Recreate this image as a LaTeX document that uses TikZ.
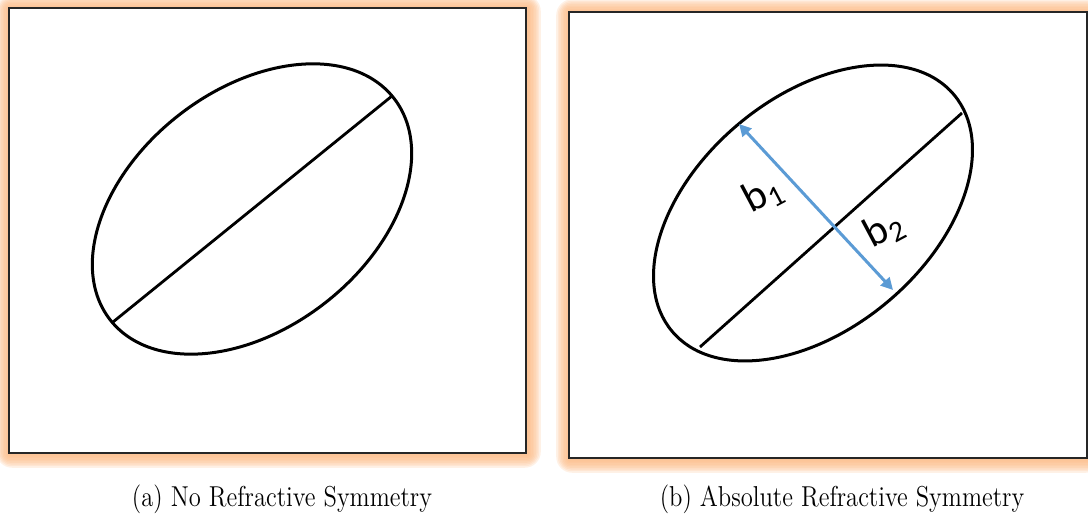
\documentclass[tikz,border=0pt]{standalone}
\usepackage{fontspec}
\newfontfamily\carlito{Carlito}
\usetikzlibrary{arrows.meta}

\definecolor{glowc}{RGB}{252,186,132}
\definecolor{arrowblue}{RGB}{91,155,213}

\begin{document}
\begin{tikzpicture}[
  x=0.5pt, y=-0.5pt,
  frame/.style={draw=black!85, line width=0.8pt, fill=white},
  curve/.style={draw, line width=1.5pt},
  axis/.style={line width=1.4pt},
  dimarr/.style={{Triangle[length=6pt,width=6pt]}-{Triangle[length=6pt,width=6pt]},
                 draw=arrowblue, line width=1.5pt},
  blabel/.style={font=\carlito\fontsize{21}{21}\selectfont, rotate=28, inner sep=0pt},
  caption/.style={font=\fontsize{12.3}{14}\selectfont, inner sep=0pt},
]
\useasboundingbox (0,0) rectangle (1088,522);

% glow round the two panels
\foreach \g in {1,...,8}{
  \fill[glowc, opacity=0.2, rounded corners=\g pt]
    (9-1.6*\g,8-1.6*\g) rectangle (528+1.6*\g,455+1.6*\g);
  \fill[glowc, opacity=0.2, rounded corners=\g pt]
    (569-1.6*\g,12-1.6*\g) rectangle (1089+1.6*\g,460+1.6*\g);
}

% left panel
\draw[frame] (9,8) rectangle (526,453);
\coordinate (lc) at (252,209);
\coordinate (la) at (113,322);
\coordinate (lb) at (392,96);
\draw[curve, rotate around={38:(lc)}] (lc) ellipse [x radius=180, y radius=119];
\draw[axis] (la) -- (lb);

% right panel
\draw[frame] (569,12) rectangle (1087,458);
\coordinate (rc) at (813,213);
\coordinate (ra) at (700,347);
\coordinate (rb) at (962,113);
\coordinate (p1) at (739,124);
\coordinate (p2) at (893,290);
\draw[curve, rotate around={40:(rc)}] (rc) ellipse [x radius=184, y radius=116];
\draw[axis] (ra) -- (rb);
\draw[dimarr] (p1) -- (p2);
\node[blabel] (b-one) at (763,194) {b\textsubscript{1}};
\node[blabel] (b-two) at (884,229) {b\textsubscript{2}};

% captions
\node[caption] (cap-a) at (282,499) {\scalebox{1}[1.17]{(a) No Refractive Symmetry}};
\node[caption] (cap-b) at (842,499) {\scalebox{1}[1.17]{(b) Absolute Refractive Symmetry}};
\end{tikzpicture}
\end{document}
